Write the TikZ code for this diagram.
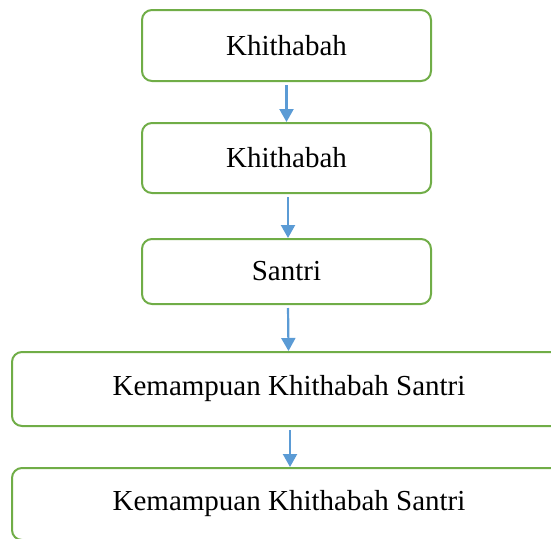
\documentclass[tikz,border=0pt]{standalone}
\usepackage{fontspec}
\setmainfont{Liberation Serif}
\usetikzlibrary{arrows.meta}
\definecolor{boxgreen}{HTML}{70AD47}
\definecolor{arrowblue}{HTML}{5B9BD5}
\begin{document}
\begin{tikzpicture}[x=1pt,y=-1pt,
  flowbox/.style={draw=boxgreen, line width=2pt, rounded corners=10pt, fill=white,
    inner sep=0pt, font=\fontsize{29}{34}\selectfont},
  flowarrow/.style={draw=arrowblue, line width=2.2pt, shorten <=3pt,
    -{Triangle[width=14pt,length=13pt]}}]
\useasboundingbox (0,0) rectangle (551,538);
\node[flowbox, minimum width=289pt, minimum height=71pt] (b1) at (286.5,45.5) {Khithabah};
\node[flowbox, minimum width=289pt, minimum height=70pt] (b2) at (286.5,158) {Khithabah};
\node[flowbox, minimum width=289pt, minimum height=65pt] (b3) at (286.5,271.5) {Santri};
\node[flowbox, minimum width=554pt, minimum height=74pt] (b4) at (289,389) {Kemampuan Khithabah Santri};
\node[flowbox, minimum width=554pt, minimum height=72pt] (b5) at (289,504) {Kemampuan Khithabah Santri};
\draw[flowarrow] (b1.south) -- (b2.north);
\draw[flowarrow] ([xshift=1.5pt]b2.south) -- ([xshift=1.5pt]b3.north);
\draw[flowarrow] ([xshift=1.5pt]b3.south) -- ([xshift=-0.5pt]b4.north);
\draw[flowarrow] ([xshift=1pt]b4.south) -- ([xshift=1pt]b5.north);
\end{tikzpicture}
\end{document}
